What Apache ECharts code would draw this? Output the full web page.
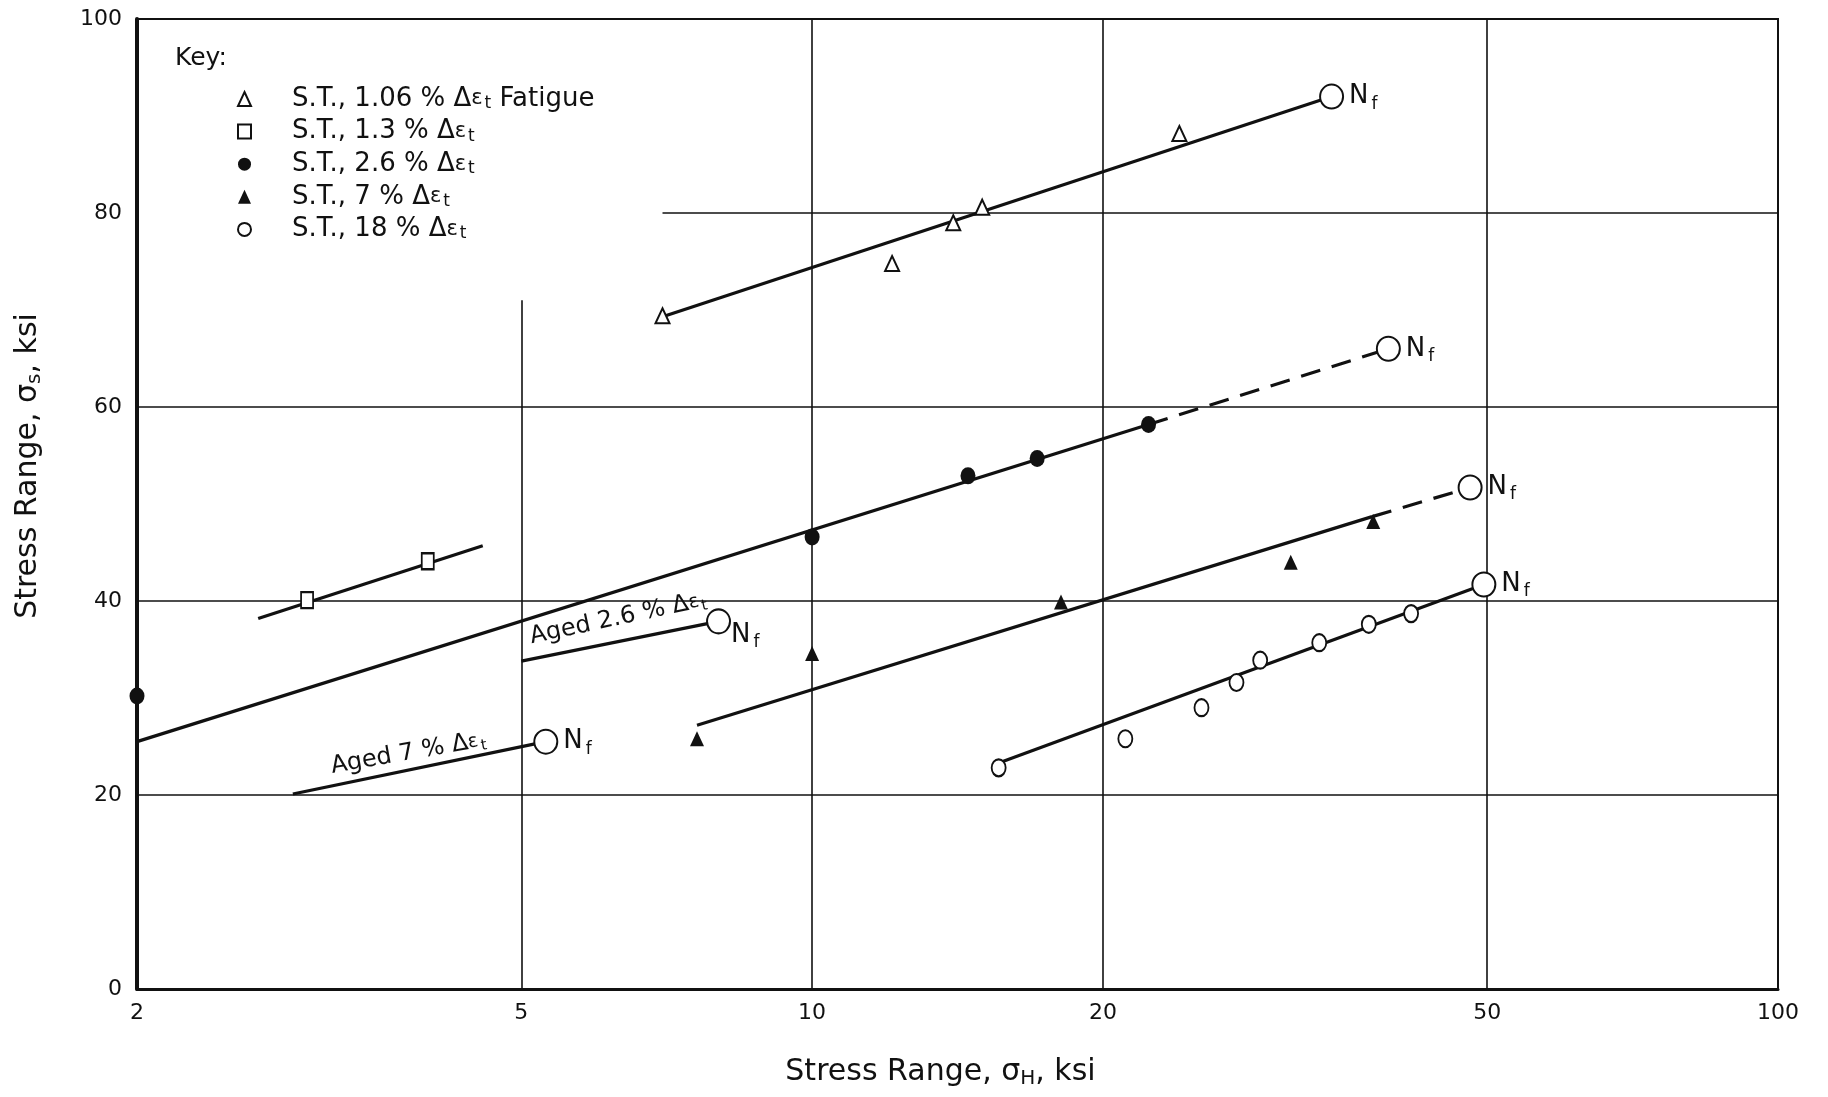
<!DOCTYPE html>
<html>
<head>
<meta charset="utf-8">
<script src="https://cdn.jsdelivr.net/npm/echarts@6/dist/echarts.min.js"></script>
<style>
  html, body { margin: 0; padding: 0; background: #fff; }
  #chart { width: 1828px; height: 1097px; }
</style>
</head>
<body>
<div id="chart"></div>
<script>
// ---- Test data: [horizontal stress range σH, stress range σs] in ksi ----
const fatigue106 = [[7.0, 69.4], [12.1, 74.8], [14.0, 79.0], [15.0, 80.6], [24.0, 88.2]];
const st13 = [[3.0, 40.1], [4.0, 44.1]];
const st26 = [[2.0, 30.2], [10.0, 46.6], [14.5, 52.9], [17.1, 54.7], [22.3, 58.2]];
const st7 = [[7.6, 25.8], [10.0, 34.6], [18.1, 39.9], [31.3, 44.0], [38.1, 48.2]];
const st18 = [[15.6, 22.8], [21.1, 25.8], [25.3, 29.0], [27.5, 31.6], [29.1, 33.9],
              [33.5, 35.7], [37.7, 37.6], [41.7, 38.7]];

// Points where fatigue failure (N_f) was reached
const failurePoints = [[34.5, 92.0], [39.5, 66.0], [48.0, 51.7], [49.6, 41.7], [8.0, 37.9], [5.3, 25.5]];

// Trend lines (end points)
const fitFatigue = [[7.0, 69.3], [34.5, 92.0]];
const fit13 = [[2.67, 38.2], [4.56, 45.7]];
const fit26 = [[2.0, 25.5], [22.3, 58.2]];
const fit26Ext = [[22.3, 58.2], [39.5, 66.0]];
const fit7 = [[7.6, 27.2], [38.0, 48.7]];
const fit7Ext = [[38.0, 48.7], [48.0, 51.7]];
const fit18 = [[15.6, 23.3], [49.6, 41.7]];
const agedFit26 = [[5.0, 33.8], [8.0, 37.9]];
const agedFit7 = [[2.9, 20.1], [5.3, 25.5]];

// Axis ticks
const xTicks = [2, 5, 10, 20, 50, 100];
const yTicks = [0, 20, 40, 60, 80, 100];

// Grid rules: vertical [x, yFrom, yTo], horizontal [y, xFrom, xTo]
const vRules = [[5, 0, 71], [10, 0, 100], [20, 0, 100], [50, 0, 100]];
const hRules = [[20, 2, 100], [40, 2, 100], [60, 2, 100], [80, 7, 100]];

// Legend names
const seriesNames = ['S.T., 1.06 % Δε_t Fatigue', 'S.T., 1.3 % Δε_t', 'S.T., 2.6 % Δε_t',
                     'S.T., 7 % Δε_t', 'S.T., 18 % Δε_t'];
const agedNames = ['Aged 2.6 % Δε_t', 'Aged 7 % Δε_t'];
const agedAnchors = [[6.3, 38.2], [3.82, 24.3]];

const FONT = 'DejaVu Sans';
const INK = '#111';

function richDelta(name, lead) {
  const m = name.split('Δε_t');
  return (lead ? '{p|' : '{a|') + m[0] + 'Δ}{e|ε}{s|t}' + (m[1] ? '{a|' + m[1] + '}' : '');
}

const chart = echarts.init(document.getElementById('chart'), null, { renderer: 'canvas' });

function fitLine(data, dashed) {
  return {
    type: 'line', data: data, symbol: 'none', silent: true, z: 3,
    lineStyle: { color: INK, width: 3.2, type: dashed ? [20, 12] : 'solid' },
    animation: false
  };
}

function pointSeries(name, data, symbol, size) {
  return {
    name: name, type: 'scatter', data: data, symbol: symbol, symbolSize: size, z: 5,
    itemStyle: { color: INK, opacity: 1 }, animation: false
  };
}

const ruleLines = [];
vRules.forEach(r => ruleLines.push([{ coord: [r[0], r[1]] }, { coord: [r[0], r[2]] }]));
hRules.forEach(r => ruleLines.push([{ coord: [r[1], r[0]] }, { coord: [r[2], r[0]] }]));

const nfRich = {
  n: { fontFamily: FONT, fontSize: 26, color: INK, lineHeight: 32, verticalAlign: 'middle' },
  f: { fontFamily: FONT, fontSize: 17, color: INK, lineHeight: 32, verticalAlign: 'bottom', padding: [0, 0, 0, 3] }
};

const textRich = (size, lead) => ({
  a: { fontFamily: FONT, fontSize: size, color: INK, lineHeight: 26 },
  p: { fontFamily: FONT, fontSize: size, color: INK, lineHeight: 26, padding: [0, 0, 0, lead] },
  e: { fontFamily: FONT, fontSize: size - 5, color: INK, lineHeight: 26 },
  s: { fontFamily: FONT, fontSize: size - 9, color: INK, lineHeight: 26, verticalAlign: 'bottom', padding: [0, 0, 0, 2] }
});

const option = {
  backgroundColor: '#fff',
  animation: false,
  title: {
    text: 'Key:', left: 170, top: 41,
    textStyle: { fontFamily: FONT, fontSize: 25, fontWeight: 'normal', color: INK }
  },
  legend: {
    orient: 'vertical', left: 232, top: 81, itemGap: 6.6, itemWidth: 13, itemHeight: 14,
    data: [
      { name: seriesNames[0], icon: 'emptyTriangle' },
      { name: seriesNames[1], icon: 'emptyRect' },
      { name: seriesNames[2], icon: 'circle' },
      { name: seriesNames[3], icon: 'triangle' },
      { name: seriesNames[4], icon: 'emptyCircle' }
    ],
    formatter: name => richDelta(name, true),
    textStyle: { rich: textRich(26, 36) },
    selectedMode: false
  },
  grid: {
    left: 137, right: 50, top: 19, bottom: 108,
    show: true, borderColor: INK, borderWidth: 2, backgroundColor: 'transparent'
  },
  xAxis: {
    type: 'log', logBase: 10, min: 2, max: 100,
    name: 'Stress Range, {g|σ}{h|H}, ksi',
    nameLocation: 'middle', nameGap: 66,
    nameTextStyle: {
      fontFamily: FONT, fontSize: 30, color: INK, padding: [0, 34, 0, 0],
      rich: {
        g: { fontFamily: FONT, fontSize: 30, color: INK },
        h: { fontFamily: FONT, fontSize: 20, color: INK, verticalAlign: 'bottom', padding: [14, 0, 0, 0] }
      }
    },
    axisLine: { show: true, lineStyle: { color: INK, width: 3 } },
    axisTick: { show: false },
    splitLine: { show: false },
    minorSplitLine: { show: false },
    axisLabel: {
      customValues: xTicks, margin: 13,
      fontFamily: FONT, fontSize: 22, color: INK,
      formatter: v => String(Math.round(v))
    }
  },
  yAxis: {
    type: 'value', min: 0, max: 100, interval: 20,
    name: 'Stress Range, {g|σ}{h|s}, ksi',
    nameLocation: 'middle', nameGap: 92,
    nameTextStyle: {
      fontFamily: FONT, fontSize: 30, color: INK, padding: [0, 0, 0, 76],
      rich: {
        g: { fontFamily: FONT, fontSize: 30, color: INK },
        h: { fontFamily: FONT, fontSize: 20, color: INK, verticalAlign: 'bottom', padding: [14, 0, 0, 0] }
      }
    },
    axisLine: { show: true, lineStyle: { color: INK, width: 4 } },
    axisTick: { show: false },
    splitLine: { show: false },
    axisLabel: {
      customValues: yTicks, margin: 15,
      fontFamily: FONT, fontSize: 22, color: INK
    }
  },
  series: [
    {
      type: 'line', data: [], silent: true, z: 1,
      markLine: {
        silent: true, symbol: ['none', 'none'], animation: false,
        label: { show: false },
        lineStyle: { color: INK, width: 1.6, type: 'solid', opacity: 1 },
        data: ruleLines
      }
    },
    fitLine(fitFatigue), fitLine(fit13), fitLine(fit26), fitLine(fit26Ext, true),
    fitLine(fit7), fitLine(fit7Ext, true), fitLine(fit18),
    fitLine(agedFit26), fitLine(agedFit7),
    pointSeries(seriesNames[0], fatigue106, 'emptyTriangle', [14, 15]),
    pointSeries(seriesNames[1], st13, 'emptyRect', [12, 16]),
    pointSeries(seriesNames[2], st26, 'circle', [15, 17]),
    pointSeries(seriesNames[3], st7, 'triangle', [14, 15]),
    pointSeries(seriesNames[4], st18, 'emptyCircle', [14, 17]),
    {
      type: 'scatter', z: 6, symbol: 'emptyCircle', symbolSize: [23, 24],
      itemStyle: { color: INK, opacity: 1 }, animation: false,
      data: failurePoints.map((p, i) => i === 4
        ? { value: p, label: { position: 'right', offset: [-5, 14] } }
        : { value: p }),
      label: {
        show: true, position: 'right', distance: 5,
        formatter: '{n|N}{f|f}', rich: nfRich
      }
    },
    {
      type: 'scatter', z: 7, symbolSize: 0, silent: true, animation: false,
      itemStyle: { opacity: 1 },
      data: agedAnchors.map((p, i) => ({
        value: p,
        label: { formatter: richDelta(agedNames[i], false), rotate: i === 0 ? 12 : 10 }
      })),
      label: { show: true, position: 'inside', rich: textRich(24, 0) }
    }
  ]
};

chart.setOption(option);
</script>
</body>
</html>
